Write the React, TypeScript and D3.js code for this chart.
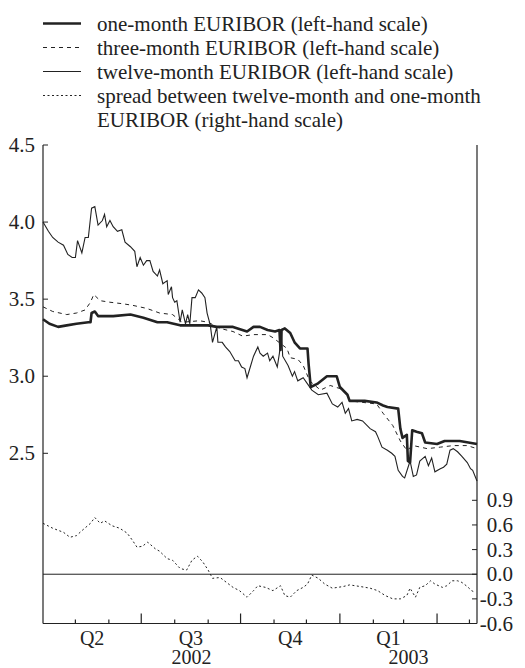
import React from "react";
import * as d3 from "d3";

// days counted from 1 April 2002
const oneMonthDays = [0, 6, 14, 22, 31, 42, 44, 45, 48, 51, 65, 81, 93, 106, 115, 127, 139, 153, 161, 176, 189, 195, 201, 208, 215, 219, 220, 221, 224, 229, 233, 238, 245, 246, 248, 254, 263, 272, 275, 282, 284, 298, 309, 315, 319, 329, 331, 333, 337, 338, 340, 342, 346, 351, 354, 365, 372, 386, 402];
const oneMonthRates = [3.37, 3.34, 3.32, 3.33, 3.34, 3.35, 3.35, 3.41, 3.42, 3.39, 3.39, 3.40, 3.38, 3.35, 3.35, 3.33, 3.33, 3.33, 3.32, 3.32, 3.29, 3.32, 3.32, 3.30, 3.29, 3.30, 3.17, 3.30, 3.31, 3.28, 3.22, 3.18, 3.18, 3.08, 2.93, 2.95, 3.00, 3.00, 2.93, 2.88, 2.84, 2.84, 2.83, 2.81, 2.80, 2.79, 2.66, 2.60, 2.62, 2.45, 2.44, 2.65, 2.64, 2.63, 2.57, 2.56, 2.58, 2.58, 2.56];

const threeMonthDays = [0, 9, 22, 31, 39, 44, 47, 53, 62, 74, 83, 96, 108, 120, 129, 145, 153, 164, 176, 185, 195, 208, 213, 226, 229, 236, 241, 247, 257, 266, 275, 282, 284, 309, 315, 324, 331, 337, 343, 356, 368, 380, 393, 402];
const threeMonthRates = [3.45, 3.42, 3.40, 3.41, 3.43, 3.48, 3.53, 3.49, 3.48, 3.47, 3.46, 3.44, 3.41, 3.40, 3.35, 3.36, 3.35, 3.31, 3.29, 3.26, 3.27, 3.27, 3.25, 3.18, 3.12, 3.11, 3.07, 2.97, 2.91, 2.94, 2.92, 2.88, 2.84, 2.82, 2.76, 2.68, 2.58, 2.52, 2.55, 2.53, 2.54, 2.55, 2.55, 2.53];

const twelveMonthDays = [0, 5, 9, 14, 19, 23, 27, 30, 32, 36, 39, 42, 45, 48, 51, 55, 57, 59, 62, 65, 69, 73, 76, 81, 85, 87, 90, 93, 96, 99, 102, 106, 108, 111, 115, 116, 119, 120, 122, 124, 127, 129, 132, 134, 136, 138, 141, 144, 147, 150, 152, 155, 157, 161, 162, 166, 169, 173, 178, 181, 184, 187, 189, 192, 195, 199, 201, 204, 208, 210, 213, 217, 219, 221, 222, 227, 231, 233, 236, 241, 245, 249, 255, 263, 268, 273, 277, 280, 283, 286, 291, 296, 303, 308, 310, 314, 319, 323, 326, 329, 333, 335, 340, 343, 346, 349, 354, 357, 360, 363, 368, 371, 374, 377, 380, 384, 388, 393, 396, 398, 402];
const twelveMonthRates = [4.00, 3.94, 3.90, 3.87, 3.85, 3.79, 3.77, 3.77, 3.88, 3.80, 3.90, 3.90, 4.09, 4.10, 3.98, 4.01, 4.05, 3.97, 4.01, 3.97, 3.94, 3.95, 3.87, 3.84, 3.81, 3.71, 3.77, 3.72, 3.75, 3.75, 3.68, 3.65, 3.69, 3.60, 3.62, 3.53, 3.58, 3.51, 3.48, 3.49, 3.35, 3.43, 3.34, 3.40, 3.34, 3.51, 3.51, 3.56, 3.54, 3.51, 3.41, 3.33, 3.22, 3.32, 3.22, 3.22, 3.19, 3.16, 3.10, 3.10, 3.06, 3.05, 2.99, 3.06, 3.13, 3.19, 3.15, 3.13, 3.15, 3.10, 3.13, 3.06, 3.15, 3.29, 3.13, 3.07, 3.00, 3.03, 2.97, 2.99, 2.95, 2.91, 2.88, 2.89, 2.82, 2.80, 2.83, 2.76, 2.79, 2.71, 2.72, 2.71, 2.66, 2.64, 2.61, 2.54, 2.52, 2.50, 2.48, 2.39, 2.35, 2.34, 2.45, 2.35, 2.36, 2.45, 2.48, 2.42, 2.47, 2.38, 2.40, 2.41, 2.43, 2.52, 2.53, 2.51, 2.48, 2.44, 2.40, 2.39, 2.32];

const spreadDays = [0, 9, 19, 25, 31, 36, 44, 48, 53, 57, 64, 71, 78, 83, 87, 92, 97, 104, 108, 115, 120, 127, 133, 138, 143, 148, 153, 157, 164, 170, 176, 182, 189, 195, 199, 206, 213, 220, 224, 229, 235, 241, 245, 249, 255, 261, 268, 273, 278, 284, 294, 303, 310, 317, 324, 331, 337, 340, 345, 349, 354, 359, 363, 370, 374, 379, 384, 388, 393, 397, 400];
const spreadValues = [0.62, 0.56, 0.51, 0.45, 0.47, 0.53, 0.62, 0.69, 0.62, 0.65, 0.59, 0.56, 0.50, 0.41, 0.33, 0.34, 0.39, 0.31, 0.28, 0.19, 0.17, 0.07, 0.05, 0.17, 0.22, 0.15, 0.05, -0.05, -0.04, -0.10, -0.16, -0.20, -0.28, -0.20, -0.14, -0.16, -0.20, -0.14, -0.26, -0.28, -0.20, -0.16, -0.12, -0.01, -0.05, -0.12, -0.17, -0.16, -0.15, -0.13, -0.15, -0.17, -0.20, -0.26, -0.30, -0.30, -0.26, -0.17, -0.28, -0.16, -0.14, -0.08, -0.12, -0.16, -0.14, -0.08, -0.08, -0.10, -0.15, -0.20, -0.22];

const leftTicks = [2.5, 3.0, 3.5, 4.0, 4.5];
const rightTicks = [0.9, 0.6, 0.3, 0.0, -0.3, -0.6];
const quarterLabels = ["Q2", "Q3", "Q4", "Q1"];
const yearLabels = ["2002", "2003"];

const legendItems = [
  { lines: ["one-month EURIBOR (left-hand scale)"], width: 2.6, dash: "none" },
  { lines: ["three-month EURIBOR (left-hand scale)"], width: 1, dash: "4,4" },
  { lines: ["twelve-month EURIBOR (left-hand scale)"], width: 1.1, dash: "none" },
  { lines: ["spread between twelve-month and one-month", "EURIBOR (right-hand scale)"], width: 1, dash: "2,2.5" },
];

const start = new Date(2002, 3, 1);
const end = d3.timeDay.offset(start, 402);
const ink = "#222";
const font = "'Liberation Serif', 'Times New Roman', serif";

export default function App() {
  const left = 43;
  const right = 477;
  const top = 145;
  const bottom = 623.5;

  const x = d3.scaleTime().domain([start, end]).range([left, right]);
  const yLeft = d3.scaleLinear().domain([2.5, 4.5]).range([453.3, top]);
  const yRight = d3.scaleLinear().domain([-0.6, 0.9]).range([bottom, 500.3]);

  const makeLine = (days: number[], vals: number[], y: d3.ScaleLinear<number, number>) =>
    d3
      .line<number>()
      .x((d) => x(d3.timeDay.offset(start, d)))
      .y((_, i) => y(vals[i]))(days) || "";

  const months = d3.timeMonth.range(d3.timeMonth.offset(start, 1), end);
  const quarterStarts = d3.timeMonth.every(3)!.range(start, d3.timeMonth.offset(end, 3));
  const quarterMids = quarterLabels.map((q, i) => {
    const a = quarterStarts[i];
    const b = quarterStarts[i + 1];
    return { q, x: (x(a) + x(b)) / 2 };
  });
  const yearMids = yearLabels.map((yr) => {
    const a = d3.max([new Date(+yr, 0, 1), start])!;
    const b = d3.min([new Date(+yr + 1, 0, 1), end])!;
    return { yr, x: (x(a) + x(b)) / 2 };
  });

  let row = 0;

  return (
    <svg
      width={525}
      height={668}
      style={{ position: "absolute", left: 0, top: 0, display: "block", background: "#fff" }}
      fontFamily={font}
      fontSize={21}
      fill={ink}
    >
      {/* legend */}
      {legendItems.map((item, i) => {
        const base = 30.5 + row * 24;
        row += item.lines.length;
        return (
          <g key={i}>
            <line
              x1={43}
              x2={81}
              y1={base - 7}
              y2={base - 7}
              stroke={ink}
              strokeWidth={item.width}
              strokeDasharray={item.dash}
            />
            {item.lines.map((t, j) => (
              <text key={j} x={97} y={base + j * 24}>
                {t}
              </text>
            ))}
          </g>
        );
      })}

      {/* axes */}
      <line x1={left} x2={left} y1={top} y2={bottom} stroke={ink} strokeWidth={1.2} />
      <line x1={right} x2={right} y1={top} y2={bottom} stroke={ink} strokeWidth={1.2} />
      <line x1={left} x2={right} y1={bottom} y2={bottom} stroke={ink} strokeWidth={1.2} />
      <line x1={left} x2={right} y1={yRight(0)} y2={yRight(0)} stroke={ink} strokeWidth={1} />

      {leftTicks.map((t) => (
        <g key={"l" + t}>
          <line x1={left} x2={left + 5} y1={yLeft(t)} y2={yLeft(t)} stroke={ink} />
          <text x={35} y={yLeft(t) + 7} textAnchor="end">
            {t.toFixed(1)}
          </text>
        </g>
      ))}
      {rightTicks.map((t) => (
        <g key={"r" + t}>
          <line x1={right - 5} x2={right} y1={yRight(t)} y2={yRight(t)} stroke={ink} />
          <text x={513} y={yRight(t) + 7} textAnchor="end">
            {t.toFixed(1)}
          </text>
        </g>
      ))}
      {months.map((m) => {
        const long = m.getMonth() % 3 === 0;
        return (
          <line
            key={+m}
            x1={x(m)}
            x2={x(m)}
            y1={bottom}
            y2={bottom - (long ? 10 : 4)}
            stroke={ink}
            strokeWidth={1.2}
          />
        );
      })}
      {quarterMids.map((d) => (
        <text key={d.q} x={d.x} y={645} textAnchor="middle" fontSize={20}>
          {d.q}
        </text>
      ))}
      {yearMids.map((d) => (
        <text key={d.yr} x={d.x} y={664} textAnchor="middle" fontSize={20}>
          {d.yr}
        </text>
      ))}

      {/* series */}
      <path d={makeLine(spreadDays, spreadValues, yRight)} fill="none" stroke={ink} strokeWidth={1} strokeDasharray="2,2.5" />
      <path d={makeLine(twelveMonthDays, twelveMonthRates, yLeft)} fill="none" stroke={ink} strokeWidth={1.1} />
      <path d={makeLine(threeMonthDays, threeMonthRates, yLeft)} fill="none" stroke={ink} strokeWidth={1} strokeDasharray="4,4" />
      <path d={makeLine(oneMonthDays, oneMonthRates, yLeft)} fill="none" stroke={ink} strokeWidth={2.6} strokeLinejoin="round" />
    </svg>
  );
}
